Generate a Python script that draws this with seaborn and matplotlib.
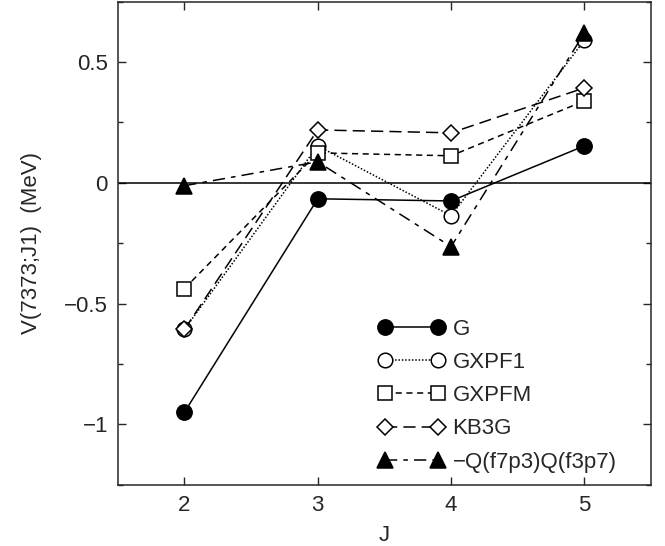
import matplotlib
matplotlib.use("Agg")
import matplotlib.pyplot as plt
import seaborn as sns
from matplotlib.ticker import MultipleLocator, FuncFormatter

# --- Data ---
J = [2, 3, 4, 5]
v_g = [-0.95, -0.066, -0.075, 0.153]
v_gxpf1 = [-0.607, 0.153, -0.136, 0.59]
v_gxpfm = [-0.438, 0.124, 0.112, 0.339]
v_kb3g = [-0.607, 0.219, 0.207, 0.393]
v_qq = [-0.012, 0.087, -0.264, 0.62]

labels = ["G", "GXPF1", "GXPFM", "KB3G", "\u2212Q(f7p3)Q(f3p7)"]

sns.set_style("ticks")
plt.rcParams["font.family"] = ["Liberation Sans", "DejaVu Sans"]

fig = plt.figure(figsize=(6.65, 5.46), dpi=100)
ax = fig.add_axes([0.177, 0.112, 0.802, 0.885])

# (values, marker, marker size, filled, linestyle)
series = [
    (v_g, "o", 11, True, "-"),
    (v_gxpf1, "o", 10.5, False, (0, (1, 1.2))),
    (v_gxpfm, "s", 9.5, False, (0, (4, 3))),
    (v_kb3g, "D", 8, False, (0, (8, 4))),
    (v_qq, "^", 11.5, True, (0, (8, 4, 3, 4))),
]

for (vals, mk, ms, filled, ls), lab in zip(series, labels):
    sns.lineplot(x=J, y=vals, ax=ax, color="black", linewidth=1.1,
                 linestyle=ls, marker=mk, markersize=ms,
                 markerfacecolor="black" if filled else "white",
                 markeredgecolor="black", markeredgewidth=1.1,
                 label=lab, zorder=3)

ax.axhline(0, color="black", linewidth=1.1, zorder=1)

ax.set_xlim(1.5, 5.5)
ax.set_ylim(-1.25, 0.75)
ax.set_xticks(J)
ax.yaxis.set_major_locator(MultipleLocator(0.5))
ax.yaxis.set_minor_locator(MultipleLocator(0.25))
ax.yaxis.set_major_formatter(FuncFormatter(
    lambda v, p: "0" if abs(v) < 1e-9 else ("%g" % v).replace("-", "\u2212")))
ax.tick_params(direction="in", which="both", top=True, right=True,
               labelsize=16, width=1)
ax.tick_params(which="major", length=6, pad=7)
ax.tick_params(which="minor", length=3.6)
for s in ax.spines.values():
    s.set_linewidth(1.1)

ax.set_xlabel("J", fontsize=16, labelpad=7)
ax.set_ylabel("V(7373;J1)  (MeV)", fontsize=16, labelpad=16)

ax.legend(loc="upper left", bbox_to_anchor=(0.488, 0.344), frameon=False,
          fontsize=16, numpoints=2, handlelength=3.0, handletextpad=0.35,
          labelspacing=0.55, borderaxespad=0, borderpad=0)

fig.savefig("out.png", dpi=100)
